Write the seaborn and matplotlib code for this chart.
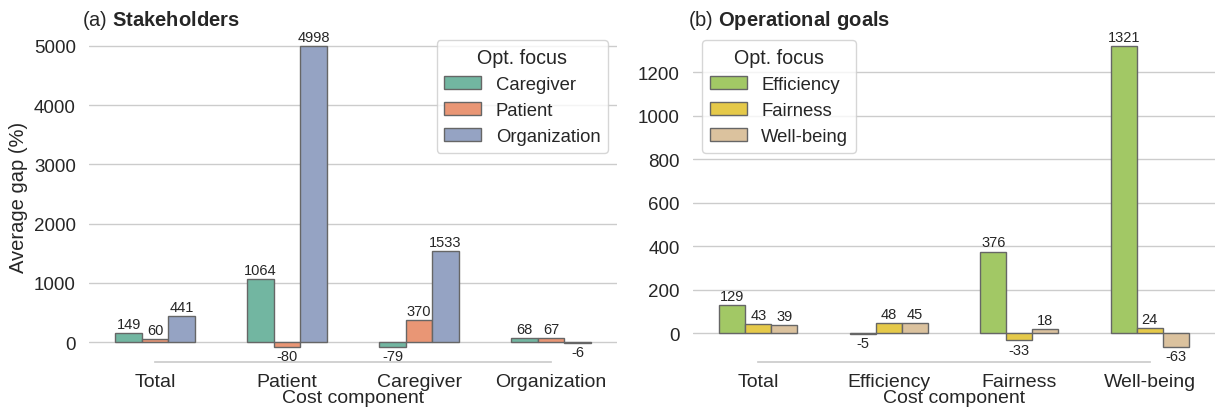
import numpy as np
import pandas as pd
import matplotlib
matplotlib.use("Agg")
import matplotlib.pyplot as plt
import seaborn as sns

## Data
cats_a = ["Total", "Patient", "Caregiver", "Organization"]
hues_a = ["Caregiver", "Patient", "Organization"]
caregiver_a = [149, 1064, -79, 68]
patient_a = [60, -80, 370, 67]
organization_a = [441, 4998, 1533, -6]

cats_b = ["Total", "Efficiency", "Fairness", "Well-being"]
hues_b = ["Efficiency", "Fairness", "Well-being"]
efficiency_b = [129, -5, 376, 1321]
fairness_b = [43, 48, -33, 24]
wellbeing_b = [39, 45, 18, -63]

def long_df(cats, hues, series):
    rows = []
    for h, vals in zip(hues, series):
        for c, v in zip(cats, vals):
            rows.append({"Cost component": c, "Opt. focus": h, "gap": v})
    return pd.DataFrame(rows)

df_a = long_df(cats_a, hues_a, [caregiver_a, patient_a, organization_a])
df_b = long_df(cats_b, hues_b, [efficiency_b, fairness_b, wellbeing_b])

sns.set_theme(style="whitegrid")
plt.rcParams["font.family"] = ["Liberation Sans", "DejaVu Sans"]
plt.rcParams["mathtext.fontset"] = "custom"
plt.rcParams["mathtext.rm"] = "Liberation Sans"
plt.rcParams["mathtext.bf"] = "Liberation Sans:bold"

set2 = sns.color_palette("Set2")
pal_a = set2[:3]
pal_b = set2[4:7]

fig = plt.figure(figsize=(12.15, 4.14), dpi=100)
ax1 = fig.add_axes([0.0733, 0.1232, 0.4346, 0.7995])
ax2 = fig.add_axes([0.5704, 0.1232, 0.4296, 0.7995])

for ax, df, cats, hues, pal in [(ax1, df_a, cats_a, hues_a, pal_a),
                                (ax2, df_b, cats_b, hues_b, pal_b)]:
    sns.barplot(data=df, x="Cost component", y="gap", hue="Opt. focus",
                order=cats, hue_order=hues, palette=pal, width=0.6,
                edgecolor=".4", linewidth=1, ax=ax)
    for cont in ax.containers:
        ax.bar_label(cont, fmt="%.0f", padding=1.5, fontsize=10.5, color=".15")
    ax.tick_params(axis="x", labelsize=14, colors=".15", pad=2)
    ax.tick_params(axis="y", labelsize=13.5, colors=".15")
    ax.set_xlabel("Cost component", fontsize=14, labelpad=-1)
    sns.despine(ax=ax, left=True, trim=True)

ax1.set_ylabel("Average gap (%)", fontsize=14.5)
ax2.set_ylabel("")
ax1.set_yticks([0, 1000, 2000, 3000, 4000, 5000])
ax2.set_yticks([0, 200, 400, 600, 800, 1000, 1200])

ax1.legend(title="Opt. focus", loc="upper right", fontsize=13.3, title_fontsize=14.2)
ax2.legend(title="Opt. focus", loc="upper left", fontsize=13.3, title_fontsize=14.2)

fig.text(82 / 1215, 1 - 20 / 414, r"(a) $\bf{Stakeholders}$", fontsize=14.5,
         va="center", ha="left")
fig.text(688 / 1215, 1 - 20 / 414, r"(b) $\bf{Operational\ goals}$", fontsize=14.5,
         va="center", ha="left")

fig.savefig("out.png", dpi=100)
